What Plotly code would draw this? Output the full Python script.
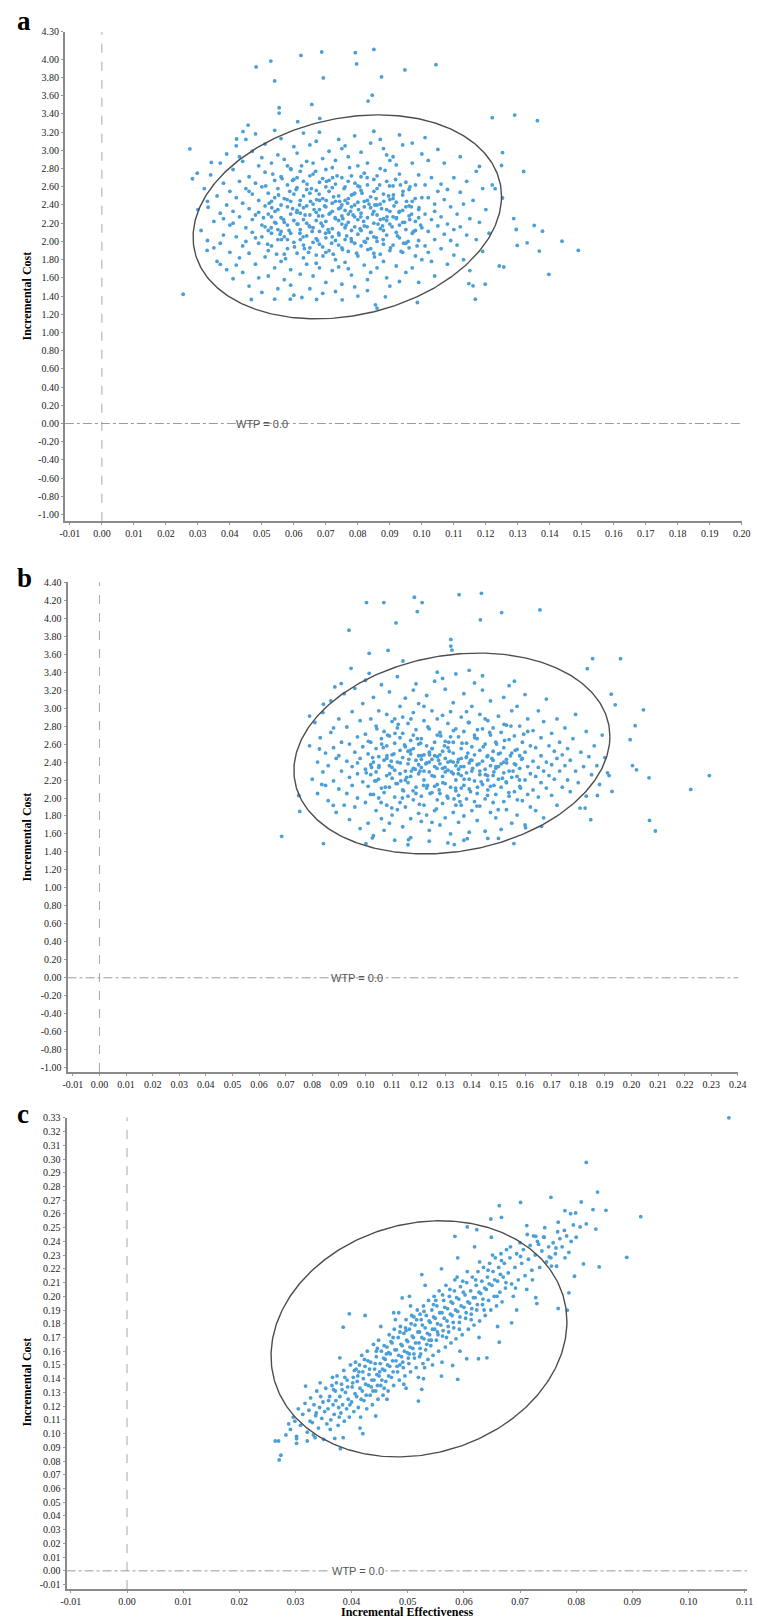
import numpy as np
import plotly.graph_objects as go

# ---------------- data: (incremental effectiveness, incremental cost) ----------------
pts_a = [
(0.0482,3.916),(0.0528,3.981),(0.0622,4.043),(0.0687,4.080),(0.0792,4.073),(0.0850,4.109),(0.0796,3.949),
(0.0947,3.883),(0.1044,3.941),(0.0874,3.807),(0.0692,3.796),(0.0540,3.763),(0.0845,3.606),(0.0832,3.541),
(0.0656,3.504),(0.0554,3.468),(0.0554,3.410),(0.1220,3.359),(0.1290,3.388),(0.1361,3.326),(0.0275,3.016),
(0.0342,2.867),(0.0298,2.750),(0.0283,2.688),(0.1252,2.976),(0.1318,2.768),(0.1249,2.834),(0.1180,2.823),
(0.1229,2.579),(0.1252,2.477),(0.1287,2.251),(0.1295,2.131),(0.1351,2.175),(0.1377,2.113),(0.1438,2.003),
(0.1489,1.901),(0.1298,1.956),(0.1329,1.985),(0.1367,1.894),(0.1242,1.730),(0.1256,1.719),(0.1397,1.639),
(0.1147,1.537),(0.1160,1.512),(0.1198,1.530),(0.1167,1.366),(0.0986,1.329),(0.0855,1.304),(0.0860,1.268),
(0.0886,1.391),(0.0254,1.420),(0.0467,1.362),(0.0540,1.366),(0.0589,1.366),(0.0625,1.384),(0.0671,1.362),
(0.0751,1.359),(0.0329,1.901),(0.0370,1.748),(0.0332,2.375),(0.0457,3.278),(0.0441,3.206),(0.0421,3.125),
(0.0612,3.315),(0.0681,3.351),
(0.030,2.35),(0.031,2.12),(0.032,2.58),(0.033,2.01),(0.033,2.44),(0.034,2.73),(0.035,2.22),(0.035,1.93),
(0.036,2.50),(0.036,1.78),(0.037,2.31),(0.037,2.86),(0.038,2.07),(0.038,2.64),(0.039,1.69),(0.039,2.40),
(0.039,2.96),(0.040,2.18),(0.040,1.88),(0.040,2.55),(0.038,2.25),(0.037,1.98),
(0.041,2.33),(0.041,2.79),(0.041,1.59),(0.042,2.05),(0.042,2.48),(0.042,3.05),(0.043,1.82),(0.043,2.27),
(0.043,2.66),(0.044,1.95),(0.044,2.42),(0.044,2.88),(0.044,1.66),(0.045,2.15),(0.045,2.58),(0.045,3.12),
(0.045,2.00),(0.043,2.93),(0.042,1.74),(0.041,2.20),
(0.046,2.36),(0.046,1.87),(0.046,2.71),(0.046,1.51),(0.047,2.10),(0.047,2.52),(0.047,2.99),(0.048,1.75),
(0.048,2.29),(0.048,2.64),(0.048,3.18),(0.049,1.98),(0.049,2.45),(0.049,2.83),(0.049,1.60),(0.050,2.18),
(0.050,2.60),(0.050,1.44),(0.050,2.92),(0.050,2.05),(0.047,2.24),(0.048,2.04),(0.049,2.32),(0.046,2.55),
(0.051,2.39),(0.051,1.83),(0.051,2.76),(0.051,3.07),(0.052,2.12),(0.052,2.53),(0.052,1.62),(0.053,2.27),
(0.053,2.86),(0.053,1.95),(0.053,2.44),(0.054,1.71),(0.054,2.21),(0.054,2.67),(0.054,3.22),(0.055,2.02),
(0.055,2.35),(0.055,2.58),(0.055,1.48),(0.055,2.95),(0.052,2.30),(0.053,2.09),(0.054,2.48),(0.051,2.16),
(0.052,1.90),(0.055,2.13),
(0.056,2.26),(0.056,1.78),(0.056,2.71),(0.056,3.13),(0.057,2.05),(0.057,2.47),(0.057,1.58),(0.057,2.90),
(0.058,2.18),(0.058,2.38),(0.058,1.92),(0.058,2.62),(0.059,2.30),(0.059,1.69),(0.059,2.80),(0.059,2.09),
(0.060,2.52),(0.060,1.99),(0.060,3.04),(0.060,1.41),(0.056,2.40),(0.057,2.21),(0.058,2.02),(0.059,2.44),
(0.060,2.23),(0.060,2.68),(0.057,1.86),(0.058,2.83),(0.059,1.52),(0.056,2.11),
(0.061,2.34),(0.061,1.87),(0.061,2.59),(0.061,2.97),(0.062,2.13),(0.062,2.45),(0.062,1.64),(0.062,2.77),
(0.063,2.24),(0.063,1.96),(0.063,2.66),(0.063,3.19),(0.064,2.06),(0.064,2.39),(0.064,1.75),(0.064,2.88),
(0.065,2.29),(0.065,2.53),(0.065,1.48),(0.065,2.16),(0.061,2.19),(0.062,2.31),(0.063,2.50),(0.064,2.20),
(0.065,1.93),(0.065,2.72),(0.062,2.02),(0.063,1.82),(0.064,2.57),(0.061,2.70),(0.063,2.37),(0.065,3.06),
(0.066,2.41),(0.066,1.99),(0.066,2.74),(0.066,1.62),(0.067,2.23),(0.067,2.56),(0.067,1.85),(0.067,3.10),
(0.068,2.11),(0.068,2.35),(0.068,2.65),(0.068,1.71),(0.069,2.28),(0.069,1.94),(0.069,2.47),(0.069,2.91),
(0.070,2.04),(0.070,2.38),(0.070,1.55),(0.070,2.60),(0.066,2.15),(0.067,2.03),(0.068,2.45),(0.069,2.17),
(0.070,2.22),(0.070,1.88),(0.067,2.32),(0.068,1.97),(0.069,2.69),(0.066,2.86),(0.068,3.20),(0.070,2.79),
(0.069,1.43),(0.067,1.76),
(0.071,2.30),(0.071,1.90),(0.071,2.55),(0.071,2.99),(0.072,2.14),(0.072,2.42),(0.072,1.68),(0.072,2.81),
(0.073,2.25),(0.073,2.01),(0.073,2.63),(0.073,1.80),(0.074,2.36),(0.074,2.09),(0.074,2.50),(0.074,3.12),
(0.075,2.19),(0.075,1.93),(0.075,2.70),(0.075,1.53),(0.071,2.10),(0.072,2.33),(0.073,2.44),(0.074,1.96),
(0.075,2.28),(0.075,2.40),(0.072,2.05),(0.073,2.89),(0.074,1.72),(0.071,2.67),(0.072,2.59),(0.074,2.23),
(0.073,1.45),(0.075,3.02),
(0.076,2.34),(0.076,2.02),(0.076,2.60),(0.076,1.77),(0.077,2.21),(0.077,2.47),(0.077,1.89),(0.077,2.93),
(0.078,2.12),(0.078,2.38),(0.078,2.72),(0.078,1.63),(0.079,2.27),(0.079,1.98),(0.079,2.53),(0.079,3.16),
(0.080,2.08),(0.080,2.43),(0.080,1.84),(0.080,2.83),(0.076,2.15),(0.077,2.30),(0.078,2.00),(0.079,2.40),
(0.080,2.24),(0.080,2.61),(0.077,1.70),(0.078,2.51),(0.079,1.50),(0.076,2.45),(0.077,2.66),(0.079,2.16),
(0.076,3.05),(0.080,1.40),
(0.081,2.31),(0.081,1.95),(0.081,2.56),(0.081,2.98),(0.082,2.17),(0.082,2.44),(0.082,1.74),(0.082,2.75),
(0.083,2.26),(0.083,2.03),(0.083,2.62),(0.083,1.58),(0.084,2.37),(0.084,2.10),(0.084,2.49),(0.084,3.08),
(0.085,2.20),(0.085,1.87),(0.085,2.68),(0.085,2.33),(0.081,2.12),(0.082,2.38),(0.083,2.45),(0.084,1.92),
(0.085,2.05),(0.085,2.55),(0.082,2.00),(0.083,2.86),(0.084,1.66),(0.081,2.71),(0.083,1.46),(0.085,3.21),
(0.086,2.29),(0.086,2.00),(0.086,2.58),(0.086,1.71),(0.087,2.14),(0.087,2.41),(0.087,2.80),(0.087,1.86),
(0.088,2.25),(0.088,2.52),(0.088,1.97),(0.088,3.02),(0.089,2.35),(0.089,2.07),(0.089,2.66),(0.089,1.60),
(0.090,2.19),(0.090,2.46),(0.090,1.90),(0.090,2.89),(0.086,2.40),(0.087,2.24),(0.088,2.12),(0.089,2.23),
(0.090,2.33),(0.086,2.72),(0.088,1.78),(0.090,1.51),(0.087,3.12),(0.089,2.95),
(0.091,2.27),(0.091,1.96),(0.091,2.61),(0.091,2.93),(0.092,2.10),(0.092,2.43),(0.092,1.73),(0.093,2.33),
(0.093,2.04),(0.093,2.74),(0.093,1.56),(0.094,2.21),(0.094,2.51),(0.094,1.88),(0.094,3.06),(0.095,2.38),
(0.095,2.13),(0.095,2.65),(0.092,2.25),(0.093,2.18),(0.094,2.34),(0.095,1.98),(0.091,2.47),(0.092,2.84),
(0.095,1.66),(0.093,3.17),
(0.096,2.28),(0.096,1.93),(0.096,2.57),(0.097,2.09),(0.097,2.44),(0.097,2.86),(0.097,1.71),(0.098,2.22),
(0.098,2.62),(0.098,1.84),(0.099,2.35),(0.099,2.01),(0.099,2.73),(0.099,1.55),(0.100,2.15),(0.100,2.48),
(0.100,2.96),(0.096,2.39),(0.098,2.12),(0.100,1.80),(0.097,3.08),(0.099,2.26),
(0.101,2.30),(0.101,1.95),(0.101,2.62),(0.102,2.11),(0.102,2.48),(0.102,2.89),(0.103,1.78),(0.103,2.24),
(0.103,2.70),(0.104,2.02),(0.104,2.41),(0.104,1.62),(0.105,2.17),(0.105,2.55),(0.105,3.01),(0.102,1.88),
(0.104,2.33),(0.101,3.14),
(0.106,2.27),(0.106,1.92),(0.106,2.63),(0.107,2.08),(0.107,2.46),(0.107,2.86),(0.108,1.75),(0.108,2.19),
(0.108,2.57),(0.109,2.01),(0.109,2.38),(0.110,2.13),(0.110,2.70),(0.110,1.85),
(0.111,2.30),(0.111,1.96),(0.112,2.54),(0.112,2.16),(0.112,2.93),(0.113,1.80),(0.113,2.41),(0.114,2.07),
(0.114,2.66),(0.115,2.25),(0.115,1.68),
(0.116,2.45),(0.117,2.02),(0.117,2.77),(0.118,2.21),(0.119,1.89),(0.119,2.58),(0.120,2.35),(0.121,2.09),
(0.122,2.62),
(0.0505,2.26),(0.0512,2.61),(0.0518,1.97),(0.0523,2.42),(0.0529,2.15),(0.0534,2.74),(0.0541,2.33),(0.0546,1.86),
(0.0552,2.51),(0.0557,2.08),(0.0563,2.69),(0.0568,2.24),(0.0574,1.81),(0.0579,2.46),(0.0585,2.12),(0.0591,2.79),
(0.0596,2.36),(0.0602,1.94),(0.0607,2.57),(0.0613,2.19),(0.0618,2.40),(0.0624,2.83),(0.0629,2.05),(0.0635,2.29),
(0.0641,2.63),(0.0646,1.88),(0.0652,2.44),(0.0657,2.11),(0.0663,2.35),(0.0668,2.77),(0.0674,2.01),(0.0679,2.52),
(0.0685,2.20),(0.0691,1.84),(0.0696,2.39),(0.0702,2.66),(0.0707,2.13),(0.0713,2.31),(0.0718,1.98),(0.0724,2.49),
(0.0729,2.26),(0.0735,2.72),(0.0741,2.07),(0.0746,2.37),(0.0752,1.91),(0.0757,2.58),(0.0763,2.18),(0.0768,2.42),
(0.0774,2.81),(0.0779,2.03),(0.0785,2.29),(0.0791,2.64),(0.0796,1.87),(0.0802,2.35),(0.0807,2.14),(0.0813,2.53),
(0.0818,2.22),(0.0824,1.99),(0.0829,2.70),(0.0835,2.41),(0.0841,2.10),(0.0846,2.30),(0.0852,1.83),(0.0857,2.47),
(0.0863,2.19),(0.0868,2.62),(0.0874,2.36),(0.0879,2.02),(0.0885,2.78),(0.0891,2.27),(0.0896,2.50),(0.0902,1.93),
(0.0907,2.16),(0.0913,2.39),(0.0918,2.68),(0.0924,2.06),(0.0929,2.32),(0.0935,1.89),(0.0941,2.55),(0.0946,2.21),
(0.0952,2.44),(0.0957,2.00),(0.0963,2.60),(0.0968,2.30),(0.0974,2.11),(0.0979,2.47),(0.0985,1.95),(0.0991,2.37),
(0.0996,2.18),
(0.0531,2.37),(0.0561,2.02),(0.0587,2.55),(0.0609,2.32),(0.0633,1.92),(0.0655,2.58),(0.0677,2.28),(0.0699,2.09),
(0.0721,2.70),(0.0743,2.44),(0.0765,2.06),(0.0787,2.52),(0.0809,2.27),(0.0831,1.91),(0.0853,2.40),(0.0877,2.17),
(0.0899,2.61),(0.0921,2.26),(0.0943,1.98),(0.0967,2.38),(0.0544,2.20),(0.0596,2.67),(0.0648,2.17),(0.0701,2.45),
(0.0753,2.25),(0.0806,2.60),(0.0858,2.04),(0.0911,2.51),(0.0962,2.24),(0.0619,2.09),(0.0671,2.46),(0.0723,1.86),
(0.0777,2.33),(0.0829,2.16),(0.0881,2.44),(0.0933,2.62),
]

pts_b = [
(0.1004,4.174),(0.1069,4.174),(0.1184,4.233),(0.1213,4.174),(0.1195,4.074),(0.1352,4.262),(0.1436,4.277),
(0.1512,4.063),(0.1656,4.092),(0.1432,3.982),(0.1115,3.948),(0.0938,3.867),(0.1321,3.764),(0.1321,3.690),
(0.1325,3.646),(0.1014,3.609),(0.1085,3.642),(0.1854,3.550),(0.1959,3.550),(0.1834,3.439),(0.1924,3.155),
(0.1939,3.036),(0.2045,2.981),(0.2014,2.804),(0.1995,2.649),(0.2004,2.361),(0.2019,2.313),(0.2066,2.224),
(0.2223,2.095),(0.2293,2.250),(0.1927,2.073),(0.1916,2.250),(0.1872,2.028),(0.1807,1.888),(0.1826,1.888),
(0.1847,1.759),(0.2068,1.751),(0.2090,1.633),(0.1662,1.685),(0.1602,1.670),(0.1558,1.493),(0.1383,1.548),
(0.1334,1.482),(0.1162,1.537),(0.1026,1.556),(0.1002,1.493),(0.0842,1.493),(0.0685,1.574),(0.0753,1.851),
(0.0749,2.028),(0.0790,2.911),(0.0842,3.044),(0.0885,3.236),(0.0909,3.273),(0.0946,3.443),(0.1014,3.387),
(0.1141,3.524),(0.0827,2.545),(0.0836,2.150),(0.0879,1.917),
(0.079,2.58),(0.080,2.21),(0.081,2.84),(0.082,2.40),(0.082,2.05),(0.083,2.67),(0.084,2.29),(0.084,2.95),
(0.085,2.50),(0.085,2.14),
(0.086,2.36),(0.086,1.97),(0.087,2.73),(0.087,3.08),(0.088,2.19),(0.088,2.56),(0.089,1.84),(0.089,2.44),
(0.090,2.88),(0.090,2.10),(0.091,2.62),(0.091,2.30),(0.092,1.92),(0.092,3.16),(0.090,2.47),(0.088,2.78),
(0.093,2.41),(0.093,2.05),(0.093,2.79),(0.094,2.23),(0.094,2.60),(0.094,1.76),(0.095,2.96),(0.095,2.35),
(0.095,2.14),(0.096,2.51),(0.096,1.90),(0.096,3.22),(0.097,2.27),(0.097,2.68),(0.097,2.00),(0.098,2.44),
(0.098,2.86),(0.098,1.66),(0.099,2.18),(0.099,2.57),(0.099,3.05),(0.097,2.39),
(0.100,2.32),(0.100,1.95),(0.100,2.71),(0.100,3.31),(0.101,2.13),(0.101,2.49),(0.101,1.72),(0.102,2.88),
(0.102,2.26),(0.102,2.62),(0.103,2.04),(0.103,2.40),(0.103,3.12),(0.103,1.58),(0.104,2.19),(0.104,2.55),
(0.104,2.80),(0.104,1.86),(0.105,2.34),(0.105,2.00),(0.105,2.97),(0.105,2.46),(0.106,2.11),(0.106,2.66),
(0.106,1.77),(0.106,3.26),(0.102,2.37),(0.104,2.29),
(0.107,2.42),(0.107,2.06),(0.107,2.74),(0.107,1.64),(0.108,2.25),(0.108,2.58),(0.108,2.93),(0.108,1.92),
(0.109,2.36),(0.109,2.12),(0.109,2.69),(0.109,3.18),(0.110,2.48),(0.110,1.81),(0.110,2.22),(0.110,2.85),
(0.111,2.31),(0.111,2.01),(0.111,2.61),(0.111,1.53),(0.112,2.40),(0.112,2.16),(0.112,2.78),(0.112,3.35),
(0.113,2.27),(0.113,1.95),(0.113,2.53),(0.113,3.02),(0.108,2.44),(0.110,2.34),(0.111,2.88),(0.109,1.72),
(0.112,1.87),(0.113,2.67),
(0.114,2.45),(0.114,2.09),(0.114,2.72),(0.114,1.68),(0.115,2.30),(0.115,2.57),(0.115,3.11),(0.115,1.90),
(0.116,2.38),(0.116,2.17),(0.116,2.83),(0.116,2.02),(0.117,2.49),(0.117,2.24),(0.117,2.64),(0.117,1.56),
(0.118,2.33),(0.118,1.98),(0.118,2.95),(0.118,2.55),(0.119,2.12),(0.119,2.42),(0.119,2.76),(0.119,3.27),
(0.120,2.27),(0.120,1.83),(0.120,2.60),(0.120,2.37),(0.115,2.20),(0.116,2.52),(0.117,1.77),(0.118,2.70),
(0.119,2.05),(0.120,3.05),(0.114,2.90),(0.116,1.48),(0.118,3.20),(0.120,2.47),
(0.121,2.34),(0.121,2.02),(0.121,2.66),(0.121,1.74),(0.122,2.48),(0.122,2.20),(0.122,2.86),(0.122,1.92),
(0.123,2.39),(0.123,2.11),(0.123,2.58),(0.123,3.14),(0.124,2.29),(0.124,2.51),(0.124,1.64),(0.124,2.77),
(0.125,2.43),(0.125,2.06),(0.125,2.97),(0.125,2.25),(0.126,2.35),(0.126,1.86),(0.126,2.62),(0.126,3.30),
(0.127,2.15),(0.127,2.46),(0.127,2.70),(0.127,1.98),(0.121,2.43),(0.122,2.30),(0.123,1.81),(0.124,2.40),
(0.125,2.55),(0.126,2.13),(0.127,2.88),(0.122,3.02),(0.124,1.52),(0.125,1.73),(0.126,2.47),(0.127,3.40),
(0.128,2.38),(0.128,2.05),(0.128,2.73),(0.128,1.70),(0.129,2.24),(0.129,2.52),(0.129,2.92),(0.129,1.94),
(0.130,2.44),(0.130,2.16),(0.130,2.63),(0.130,3.21),(0.131,2.31),(0.131,2.00),(0.131,2.83),(0.131,2.56),
(0.132,2.12),(0.132,2.41),(0.132,2.68),(0.132,1.60),(0.133,2.27),(0.133,1.84),(0.133,2.50),(0.133,3.06),
(0.134,2.36),(0.134,2.08),(0.134,2.77),(0.134,2.20),(0.128,2.48),(0.129,2.33),(0.130,1.78),(0.131,2.40),
(0.132,2.96),(0.133,2.40),(0.134,1.92),(0.129,3.33),(0.131,1.50),(0.133,2.62),(0.130,2.29),(0.134,3.38),
(0.135,2.43),(0.135,2.03),(0.135,2.68),(0.135,1.73),(0.136,2.25),(0.136,2.55),(0.136,2.90),(0.136,1.92),
(0.137,2.35),(0.137,2.14),(0.137,2.74),(0.137,3.16),(0.138,2.46),(0.138,1.99),(0.138,2.61),(0.138,2.28),
(0.139,2.10),(0.139,2.39),(0.139,2.84),(0.139,1.62),(0.140,2.30),(0.140,1.86),(0.140,2.57),(0.140,3.02),
(0.141,2.19),(0.141,2.48),(0.141,2.70),(0.141,1.96),(0.135,2.32),(0.136,2.44),(0.137,1.80),(0.138,2.96),
(0.139,2.21),(0.140,2.42),(0.141,3.28),(0.137,1.53),(0.139,3.42),(0.136,2.11),
(0.142,2.37),(0.142,2.05),(0.142,2.66),(0.142,1.75),(0.143,2.26),(0.143,2.53),(0.143,2.93),(0.143,1.91),
(0.144,2.41),(0.144,2.15),(0.144,2.77),(0.144,3.20),(0.145,2.32),(0.145,1.99),(0.145,2.60),(0.145,1.63),
(0.146,2.20),(0.146,2.47),(0.146,2.86),(0.146,2.09),(0.147,2.36),(0.147,1.84),(0.147,2.70),(0.147,3.08),
(0.148,2.25),(0.148,2.52),(0.148,1.95),(0.148,2.42),(0.143,2.30),(0.145,2.88),(0.146,1.55),(0.147,2.13),
(0.144,3.36),(0.148,2.78),
(0.149,2.33),(0.149,2.04),(0.149,2.62),(0.149,1.78),(0.150,2.21),(0.150,2.49),(0.150,2.91),(0.151,2.38),
(0.151,2.12),(0.151,2.73),(0.151,1.65),(0.152,2.28),(0.152,1.96),(0.152,2.56),(0.152,3.12),(0.153,2.43),
(0.153,2.17),(0.153,2.81),(0.153,1.87),(0.154,2.30),(0.154,2.02),(0.154,2.65),(0.155,2.23),(0.155,2.50),
(0.155,2.97),(0.155,1.72),(0.150,2.35),(0.152,2.40),(0.154,3.25),(0.150,1.55),
(0.156,2.38),(0.156,2.07),(0.156,2.69),(0.157,2.24),(0.157,2.54),(0.157,1.81),(0.157,3.02),(0.158,2.33),
(0.158,2.13),(0.158,2.80),(0.159,2.44),(0.159,1.97),(0.159,2.62),(0.160,2.20),(0.160,2.51),(0.160,3.15),
(0.160,1.70),(0.161,2.35),(0.161,2.04),(0.161,2.88),(0.162,2.27),(0.162,2.58),(0.162,1.90),(0.158,2.47),
(0.156,3.30),(0.161,2.74),
(0.163,2.41),(0.163,2.09),(0.163,2.75),(0.164,2.24),(0.164,2.56),(0.164,1.86),(0.165,2.34),(0.165,2.97),
(0.165,2.01),(0.166,2.47),(0.166,2.17),(0.166,2.67),(0.167,2.30),(0.167,1.78),(0.167,2.85),(0.168,2.40),
(0.168,2.11),(0.168,3.10),(0.169,2.25),(0.169,2.58),
(0.170,2.37),(0.170,2.03),(0.170,2.72),(0.171,2.21),(0.171,2.52),(0.172,2.44),(0.172,1.92),(0.172,2.88),
(0.173,2.30),(0.173,2.62),(0.174,2.12),(0.174,2.48),(0.175,2.36),(0.175,2.78),(0.176,2.20),(0.176,2.55),
(0.177,2.42),(0.177,2.07),(0.178,2.66),(0.179,2.30),(0.179,2.93),(0.180,2.17),(0.181,2.51),(0.182,2.35),
(0.183,2.74),(0.183,2.02),(0.184,2.46),(0.185,2.26),
(0.186,2.58),(0.187,2.36),(0.188,2.15),(0.189,2.70),(0.190,2.45),(0.191,2.28),
(0.1003,2.28),(0.1011,2.63),(0.1019,2.04),(0.1027,2.45),(0.1035,2.19),(0.1043,2.77),(0.1051,2.36),(0.1059,1.95),
(0.1067,2.56),(0.1075,2.12),(0.1083,2.70),(0.1091,2.27),(0.1099,1.89),(0.1107,2.49),(0.1115,2.16),(0.1123,2.82),
(0.1131,2.39),(0.1139,2.00),(0.1147,2.59),(0.1155,2.23),(0.1163,2.43),(0.1171,2.88),(0.1179,2.08),(0.1187,2.32),
(0.1195,2.66),(0.1203,1.93),(0.1211,2.47),(0.1219,2.14),(0.1227,2.38),(0.1235,2.79),(0.1243,2.05),(0.1251,2.55),
(0.1259,2.24),(0.1267,1.88),(0.1275,2.42),(0.1283,2.69),(0.1291,2.17),(0.1299,2.34),(0.1307,2.02),(0.1315,2.52),
(0.1323,2.29),(0.1331,2.75),(0.1339,2.11),(0.1347,2.40),(0.1355,1.96),(0.1363,2.61),(0.1371,2.21),(0.1379,2.45),
(0.1387,2.84),(0.1395,2.07),(0.1403,2.33),(0.1411,2.67),(0.1419,1.91),(0.1427,2.38),(0.1435,2.18),(0.1443,2.57),
(0.1451,2.26),(0.1459,2.03),(0.1467,2.73),(0.1475,2.44),(0.1483,2.14),(0.1491,2.35),(0.1499,1.87),(0.1507,2.50),
(0.1515,2.22),(0.1523,2.64),(0.1531,2.39),(0.1539,2.06),(0.1547,2.80),(0.1555,2.30),(0.1563,2.53),(0.1571,1.98),
(0.1579,2.20),(0.1587,2.43),(0.1595,2.71),
(0.1023,2.34),(0.1061,2.60),(0.1097,2.41),(0.1133,2.19),(0.1169,2.53),(0.1205,2.30),(0.1241,2.48),(0.1277,2.09),
(0.1313,2.62),(0.1349,2.27),(0.1385,2.50),(0.1421,2.12),(0.1457,2.46),(0.1493,2.60),(0.1529,2.18),(0.1565,2.37),
(0.1049,2.21),(0.1111,2.72),(0.1173,2.30),(0.1233,2.14),(0.1297,2.58),(0.1359,2.35),(0.1421,2.76),(0.1483,2.29),
(0.1545,2.47),(0.1081,2.47),(0.1143,2.08),(0.1207,2.61),(0.1269,2.33),(0.1333,1.99),(0.1395,2.42),(0.1459,2.25),
(0.1521,2.82),(0.1583,2.11),
]

pts_c = [
(0.1072,0.330),(0.0818,0.2975),(0.0838,0.2759),(0.0755,0.2721),(0.0701,0.2684),(0.0663,0.2660),(0.0809,0.2687),
(0.0830,0.2631),(0.0853,0.2626),(0.0780,0.2624),(0.0790,0.2602),(0.0799,0.2607),(0.0915,0.2580),(0.0818,0.2527),
(0.0807,0.2505),(0.0835,0.2490),(0.0800,0.2430),(0.0890,0.2284),(0.0841,0.2214),(0.0813,0.2236),(0.0797,0.2146),
(0.0787,0.2025),(0.0768,0.1911),(0.0784,0.1899),(0.0730,0.1947),(0.0712,0.2515),(0.0648,0.2563),(0.0667,0.2575),
(0.0606,0.2505),(0.0623,0.2485),(0.0584,0.2437),(0.0728,0.2437),(0.0742,0.2432),(0.0764,0.2352),(0.0752,0.2287),
(0.0765,0.2219),(0.0270,0.0946),(0.0264,0.0946),(0.0274,0.0842),(0.0271,0.0808),(0.0302,0.0929),(0.0302,0.0963),
(0.0321,0.0946),(0.0335,0.0970),(0.0350,0.0958),(0.0370,0.0965),(0.0380,0.0890),(0.0420,0.0999),(0.0519,0.1237),
(0.0589,0.1395),(0.0560,0.1419),(0.0525,0.1322),(0.0605,0.1545),(0.0626,0.1545),(0.0641,0.1552),(0.0580,0.1496),
(0.0385,0.1775),(0.0379,0.1552),(0.0396,0.1872),(0.0424,0.1860),(0.0443,0.1128),(0.0318,0.1346),(0.0663,0.1666),
(0.0685,0.1807),(0.0525,0.2158),(0.0490,0.1988),
(0.0283,0.099),(0.0288,0.107),(0.0291,0.103),(0.0296,0.112),(0.0302,0.098),(0.0305,0.118),(0.0309,0.106),
(0.0313,0.114),(0.0317,0.122),(0.0299,0.109),
(0.0321,0.101),(0.0324,0.117),(0.0327,0.126),(0.0330,0.108),(0.0333,0.121),(0.0336,0.113),(0.0338,0.131),
(0.0341,0.104),(0.0343,0.119),(0.0345,0.127),(0.0347,0.111),(0.0349,0.123),(0.0352,0.116),(0.0354,0.133),
(0.0356,0.107),(0.0326,0.109),(0.0344,0.137),(0.0332,0.099),
(0.0358,0.118),(0.0361,0.127),(0.0363,0.110),(0.0365,0.135),(0.0367,0.121),(0.0369,0.114),(0.0371,0.131),
(0.0372,0.124),(0.0374,0.142),(0.0376,0.106),(0.0377,0.119),(0.0379,0.127),(0.0381,0.115),(0.0382,0.136),
(0.0384,0.121),(0.0386,0.146),(0.0387,0.109),(0.0389,0.130),(0.0391,0.118),(0.0392,0.139),(0.0394,0.125),
(0.0396,0.112),(0.0398,0.150),(0.0362,0.103),(0.0383,0.132),(0.0373,0.137),(0.0393,0.134),(0.0366,0.141),
(0.0400,0.123),(0.0401,0.134),(0.0403,0.141),(0.0404,0.116),(0.0406,0.129),(0.0407,0.152),(0.0409,0.127),
(0.0410,0.138),(0.0412,0.119),(0.0413,0.145),(0.0415,0.133),(0.0416,0.112),(0.0418,0.157),(0.0419,0.131),
(0.0421,0.140),(0.0422,0.124),(0.0424,0.149),(0.0425,0.136),(0.0427,0.118),(0.0428,0.160),(0.0430,0.135),
(0.0431,0.143),(0.0433,0.128),(0.0434,0.152),(0.0436,0.139),(0.0437,0.121),(0.0439,0.165),(0.0402,0.137),
(0.0411,0.142),(0.0420,0.145),(0.0432,0.147),(0.0414,0.150),(0.0426,0.128),(0.0438,0.131),(0.0405,0.146),
(0.0423,0.154),
(0.0440,0.139),(0.0441,0.147),(0.0443,0.131),(0.0444,0.156),(0.0445,0.143),(0.0447,0.125),(0.0448,0.168),
(0.0449,0.142),(0.0451,0.151),(0.0452,0.135),(0.0453,0.160),(0.0455,0.147),(0.0456,0.128),(0.0457,0.155),
(0.0459,0.146),(0.0460,0.154),(0.0461,0.138),(0.0463,0.163),(0.0464,0.150),(0.0465,0.131),(0.0467,0.172),
(0.0468,0.149),(0.0469,0.158),(0.0471,0.141),(0.0472,0.166),(0.0473,0.153),(0.0475,0.135),(0.0476,0.176),
(0.0442,0.151),(0.0454,0.139),(0.0462,0.158),(0.0474,0.145),(0.0446,0.135),(0.0458,0.164),(0.0466,0.142),
(0.0477,0.161),(0.0450,0.145),(0.0470,0.167),(0.0444,0.160),(0.0478,0.183),
(0.0479,0.153),(0.0480,0.161),(0.0482,0.145),(0.0483,0.170),(0.0484,0.157),(0.0485,0.139),(0.0487,0.178),
(0.0488,0.165),(0.0489,0.156),(0.0490,0.164),(0.0492,0.148),(0.0493,0.173),(0.0494,0.160),(0.0495,0.142),
(0.0497,0.183),(0.0498,0.168),(0.0499,0.159),(0.0500,0.167),(0.0502,0.151),(0.0503,0.176),(0.0504,0.163),
(0.0505,0.145),(0.0507,0.186),(0.0508,0.171),(0.0509,0.162),(0.0510,0.170),(0.0512,0.155),(0.0513,0.179),
(0.0514,0.166),(0.0515,0.148),(0.0517,0.190),(0.0518,0.174),(0.0481,0.149),(0.0491,0.152),(0.0501,0.155),
(0.0511,0.158),(0.0486,0.174),(0.0496,0.177),(0.0506,0.180),(0.0516,0.183),(0.0493,0.136),(0.0505,0.193),
(0.0484,0.188),(0.0519,0.141),
(0.0520,0.166),(0.0521,0.174),(0.0523,0.158),(0.0524,0.183),(0.0525,0.170),(0.0527,0.151),(0.0528,0.193),
(0.0529,0.169),(0.0531,0.177),(0.0532,0.161),(0.0533,0.186),(0.0535,0.173),(0.0536,0.154),(0.0537,0.197),
(0.0539,0.172),(0.0540,0.181),(0.0541,0.164),(0.0543,0.190),(0.0544,0.176),(0.0545,0.157),(0.0547,0.200),
(0.0548,0.176),(0.0549,0.184),(0.0551,0.168),(0.0552,0.193),(0.0553,0.180),(0.0555,0.160),(0.0556,0.204),
(0.0522,0.162),(0.0534,0.165),(0.0542,0.168),(0.0554,0.172),(0.0526,0.179),(0.0538,0.182),(0.0546,0.185),
(0.0557,0.188),(0.0530,0.148),(0.0544,0.150),(0.0522,0.187),(0.0550,0.197),
(0.0559,0.179),(0.0561,0.188),(0.0562,0.171),(0.0564,0.197),(0.0565,0.184),(0.0567,0.163),(0.0568,0.208),
(0.0570,0.182),(0.0571,0.191),(0.0573,0.174),(0.0574,0.200),(0.0576,0.187),(0.0577,0.166),(0.0579,0.186),
(0.0580,0.195),(0.0582,0.177),(0.0583,0.204),(0.0585,0.190),(0.0586,0.169),(0.0588,0.214),(0.0589,0.189),
(0.0591,0.198),(0.0592,0.181),(0.0594,0.207),(0.0595,0.193),(0.0597,0.172),(0.0563,0.175),(0.0572,0.178),
(0.0581,0.181),(0.0593,0.185),(0.0575,0.205),(0.0587,0.199),(0.0598,0.211),(0.0566,0.192),
(0.0600,0.192),(0.0602,0.201),(0.0603,0.184),(0.0605,0.210),(0.0607,0.196),(0.0608,0.176),(0.0610,0.195),
(0.0612,0.204),(0.0613,0.187),(0.0615,0.214),(0.0617,0.199),(0.0618,0.179),(0.0620,0.199),(0.0622,0.208),
(0.0623,0.190),(0.0625,0.218),(0.0627,0.203),(0.0628,0.182),(0.0630,0.202),(0.0632,0.211),(0.0633,0.194),
(0.0635,0.221),(0.0637,0.206),(0.0638,0.186),(0.0604,0.188),(0.0614,0.191),(0.0624,0.194),(0.0634,0.198),
(0.0640,0.205),(0.0642,0.214),(0.0644,0.197),(0.0646,0.224),(0.0648,0.190),(0.0650,0.208),(0.0652,0.218),
(0.0654,0.200),(0.0656,0.228),(0.0658,0.193),(0.0660,0.211),(0.0662,0.221),(0.0664,0.203),(0.0666,0.231),
(0.0668,0.196),(0.0670,0.214),(0.0672,0.224),(0.0674,0.206),(0.0676,0.234),(0.0645,0.209),(0.0655,0.212),
(0.0665,0.216),
(0.0679,0.217),(0.0682,0.228),(0.0685,0.209),(0.0688,0.200),(0.0691,0.221),(0.0694,0.231),(0.0697,0.212),
(0.0700,0.239),(0.0703,0.224),(0.0706,0.234),(0.0709,0.215),(0.0712,0.205),(0.0715,0.227),(0.0718,0.237),
(0.0721,0.219),(0.0724,0.244),
(0.0727,0.230),(0.0731,0.240),(0.0735,0.221),(0.0739,0.233),(0.0743,0.243),(0.0747,0.225),(0.0751,0.236),
(0.0755,0.228),(0.0759,0.239),(0.0763,0.231),(0.0767,0.247),(0.0771,0.242),
(0.0775,0.236),(0.0779,0.248),(0.0783,0.244),(0.0787,0.232),(0.0791,0.240),(0.0795,0.252),
(0.0337,0.115),(0.0359,0.124),(0.0368,0.132),(0.0378,0.112),(0.0388,0.141),(0.0397,0.121),(0.0408,0.147),
(0.0417,0.125),(0.0429,0.153),(0.0435,0.134),(0.0446,0.162),(0.0458,0.133),(0.0466,0.159),(0.0474,0.170),
(0.0486,0.150),(0.0497,0.175),(0.0503,0.158),(0.0511,0.185),(0.0521,0.156),(0.0529,0.189),(0.0538,0.168),
(0.0546,0.194),(0.0553,0.174),(0.0562,0.201),(0.0569,0.170),(0.0577,0.196),(0.0584,0.212),(0.0592,0.176),
(0.0599,0.203),(0.0606,0.218),(0.0613,0.183),(0.0621,0.212),(0.0628,0.225),(0.0636,0.190),(0.0643,0.219),
(0.0651,0.230),(0.0659,0.200),(0.0667,0.226),(0.0675,0.210),(0.0683,0.236),(0.0692,0.206),(0.0701,0.229),
(0.0713,0.245),(0.0722,0.212),(0.0733,0.238),(0.0744,0.250),(0.0756,0.222),(0.0768,0.254),(0.0780,0.228),
(0.0452,0.178),(0.0475,0.188),(0.0503,0.200),(0.0531,0.208),(0.0560,0.220),(0.0589,0.228),(0.0619,0.236),
(0.0649,0.243),(0.0463,0.125),(0.0497,0.133),(0.0528,0.140),(0.0561,0.152),(0.0593,0.160),(0.0627,0.170),
(0.0660,0.178),(0.0694,0.190),(0.0728,0.199),(0.0415,0.104),(0.0385,0.097),
]

eff_a = [p[0] for p in pts_a]; cost_a = [p[1] for p in pts_a]
eff_b = [p[0] for p in pts_b]; cost_b = [p[1] for p in pts_b]
eff_c = [p[0] for p in pts_c]; cost_c = [p[1] for p in pts_c]

# confidence ellipses: centre x, centre y, half-width, half-height, cos(phase)
ell_a = [0.0767, 2.270, 0.0482, 1.120, 0.20]
ell_b = [0.1325, 2.495, 0.0594, 1.117, 0.17]
ell_c = [0.0520, 0.169, 0.02635, 0.0860, 0.145]

# tick values
xt_a = [round(-0.01 + 0.01 * i, 2) for i in range(22)]
yt_a = [round(-1.0 + 0.2 * i, 2) for i in range(26)] + [4.3]
xt_b = [round(-0.01 + 0.01 * i, 2) for i in range(26)]
yt_b = [round(-1.0 + 0.2 * i, 2) for i in range(28)]
xt_c = [round(-0.01 + 0.01 * i, 2) for i in range(13)]
yt_c = [round(-0.01 + 0.01 * i, 2) for i in range(35)]

panels = [
    dict(eff=eff_a, cost=cost_a, ell=ell_a, xt=xt_a, yt=yt_a,
         xdom=[60/759, 750/759], ydom=[1-517.7/1618, 1-27/1618],
         xr=[-0.01156, 0.2001], yr=[-1.068, 4.301], wtp_x=0.0501, wtp_bg=None),
    dict(eff=eff_b, cost=cost_b, ell=ell_b, xt=xt_b, yt=yt_b,
         xdom=[62.7/759, 746/759], ydom=[1-1071/1618, 1-579.3/1618],
         xr=[-0.0120, 0.24015], yr=[-1.048, 4.401], wtp_x=0.097, wtp_bg=None),
    dict(eff=eff_c, cost=cost_c, ell=ell_c, xt=xt_c, yt=yt_c,
         xdom=[61.7/759, 755/759], ydom=[1-1590/1618, 1-1116.7/1618],
         xr=[-0.01077, 0.11044], yr=[-0.0133, 0.3302], wtp_x=0.0412, wtp_bg="white"),
]

PT = "#4b9fd6"
SERIF = "Liberation Serif"
fig = go.Figure()
layout = dict(width=759, height=1618, margin=dict(l=0, r=0, t=0, b=0),
              paper_bgcolor="white", plot_bgcolor="white", showlegend=False)
shapes = []
annotations = []

for i, p in enumerate(panels):
    sfx = "" if i == 0 else str(i + 1)
    xa, ya = "x" + sfx, "y" + sfx
    fig.add_trace(go.Scatter(x=p["eff"], y=p["cost"], mode="markers", xaxis=xa, yaxis=ya,
                             cliponaxis=False,
                             marker=dict(color=PT, size=3.8, line=dict(width=0)), hoverinfo="skip"))
    cx, cy, w, h, c = p["ell"]
    t = np.linspace(0, 2 * np.pi, 361)
    phi = np.arccos(c)
    fig.add_trace(go.Scatter(x=cx + w * np.cos(t), y=cy + h * np.cos(t - phi), mode="lines",
                             xaxis=xa, yaxis=ya, line=dict(color="#4d4d4d", width=1.4), hoverinfo="skip"))
    common = dict(showgrid=False, zeroline=False, showline=True, linecolor="#8a8a8a", linewidth=2,
                  ticks="outside", ticklen=2, tickcolor="#9a9a9a", tickwidth=1,
                  tickfont=dict(family=SERIF, size=10, color="#222"))
    layout["xaxis" + sfx] = dict(domain=p["xdom"], range=p["xr"], anchor=ya,
                                 tickvals=p["xt"], ticktext=[f"{v:.2f}" for v in p["xt"]], **common)
    layout["yaxis" + sfx] = dict(domain=p["ydom"], range=p["yr"], anchor=xa,
                                 tickvals=p["yt"], ticktext=[f"{v:.2f}" for v in p["yt"]], **common)
    shapes.append(dict(type="line", xref=xa, yref=ya + " domain", x0=0, x1=0, y0=0, y1=1,
                       line=dict(color="#a8a8a8", width=1, dash="dash")))
    shapes.append(dict(type="line", xref=xa + " domain", yref=ya, x0=0, x1=1, y0=0, y1=0,
                       line=dict(color="#9a9a9a", width=1, dash="dashdot")))
    ann = dict(xref=xa, yref=ya, x=p["wtp_x"], y=0, text="WTP = 0.0", showarrow=False,
               font=dict(family="Liberation Sans", size=11, color="#555"))
    if p["wtp_bg"]:
        ann["bgcolor"] = p["wtp_bg"]
    annotations.append(ann)

# panel letters
for lab, xp, yp in [("a", 18.5, 16), ("b", 19, 575), ("c", 17, 1113)]:
    annotations.append(dict(xref="paper", yref="paper", x=xp/759, y=1-yp/1618, text=f"<b>{lab}</b>",
                            showarrow=False, xanchor="center", yanchor="middle",
                            font=dict(family=SERIF, size=27, color="black")))
# y-axis titles
for yp in [292, 835, 1382]:
    annotations.append(dict(xref="paper", yref="paper", x=21/759, y=1-yp/1618,
                            text="<b>Incremental Cost</b>", textangle=-90, showarrow=False,
                            xanchor="center", yanchor="middle",
                            font=dict(family=SERIF, size=12, color="black")))
# x-axis title (bottom panel)
annotations.append(dict(xref="paper", yref="paper", x=409/759, y=1-1613/1618,
                        text="<b>Incremental Effectiveness</b>", showarrow=False,
                        xanchor="center", yanchor="middle", borderpad=0,
                        font=dict(family=SERIF, size=12, color="black")))

layout["shapes"] = shapes
layout["annotations"] = annotations
fig.update_layout(**layout)
fig.write_html("out.html")
